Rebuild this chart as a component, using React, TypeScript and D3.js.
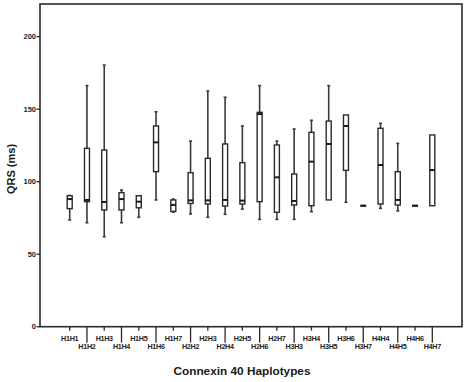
import React from "react";
import * as d3 from "d3";

const categories = [
  "H1H1", "H1H2", "H1H3", "H1H4", "H1H5", "H1H6", "H1H7",
  "H2H2", "H2H3", "H2H4", "H2H5", "H2H6", "H2H7",
  "H3H3", "H3H4", "H3H5", "H3H6", "H3H7",
  "H4H4", "H4H5", "H4H6", "H4H7",
];
const whiskerLow = [73.6, 71.7, 62, 71.7, 75.4, 87.4, 79, 77.7, 75.4, 77.5, 81.1, 74, 74, 74, 79.3, 87.4, 85.8, 83.4, 81.6, 79.8, 83.4, 83.4];
const q1 = [81.4, 86.2, 80.5, 80.5, 82, 106.9, 79.5, 85, 84.6, 83.2, 84.6, 86.2, 78.9, 83.9, 83.4, 87.4, 107.8, 83.4, 84.6, 83.9, 83.4, 83.4];
const medians = [88, 87.4, 86, 88, 86.2, 127.1, 84, 87.1, 87.1, 87.4, 86.9, 146.6, 103, 86.7, 113.8, 126, 138.4, 83.4, 111.5, 87.4, 83.4, 108];
const q3 = [90.3, 123, 121.8, 92.4, 90.3, 138.4, 87.4, 106.2, 116.1, 126, 113.1, 147.8, 125.3, 105.3, 134, 141.8, 146, 83.4, 136.8, 106.9, 83.4, 132.2];
const whiskerHigh = [90.5, 166.2, 180.4, 94.2, 90.3, 148.2, 88, 128, 162.5, 158.2, 138.4, 166.2, 128, 136.3, 142.3, 166.2, 146, 83.4, 140.2, 126.4, 83.4, 132.2];
const yTicks = [0, 50, 100, 150, 200];

const W = 471;
const H = 382;
const left = 40;
const right = 462;
const top = 4;
const bottom = 326.7;

export default function App() {
  const x = d3.scalePoint<string>().domain(categories).range([left, right]).padding(1.72);
  const y = d3.scaleLinear().domain([0, 222.5]).range([bottom, top]);
  const bw = 5;
  const ink = "#2a2a2a";
  const font = "'Liberation Sans', Arial, sans-serif";

  return (
    <svg width={W} height={H} style={{ position: "absolute", left: 0, top: 0, background: "#fff" }}>
      <rect x={0} y={0} width={W} height={H} fill="#fff" />
      <rect x={left} y={top} width={right - left} height={bottom - top} fill="none" stroke={ink} strokeWidth={1.6} />
      {yTicks.map((t) => (
        <g key={t}>
          <line x1={left - 3.5} x2={left} y1={y(t)} y2={y(t)} stroke={ink} strokeWidth={1.3} />
          <text x={left - 4} y={y(t) + 2.6} fontSize={7.5} fontWeight={600} textAnchor="end" fontFamily={font} fill="#222">{t}</text>
        </g>
      ))}
      {categories.map((c, i) => {
        const cx = x(c)!;
        const odd = i % 2 === 1;
        return (
          <g key={c}>
            <line x1={cx} x2={cx} y1={bottom} y2={odd ? bottom + 16 : bottom + 4} stroke={ink} strokeWidth={1.3} />
            <text x={cx} y={odd ? 348.5 : 340.8} fontSize={7.2} fontWeight={700} textAnchor="middle" fontFamily={font} fill="#222" letterSpacing={-0.3}>{c}</text>
          </g>
        );
      })}
      {categories.map((c, i) => {
        const cx = x(c)!;
        const single = q1[i] === q3[i] && whiskerLow[i] === whiskerHigh[i];
        if (single) {
          return (
            <line key={c} x1={cx - 3} x2={cx + 3} y1={y(medians[i])} y2={y(medians[i])} stroke="#1a1a1a" strokeWidth={2.3} />
          );
        }
        return (
          <g key={c}>
            {whiskerHigh[i] > q3[i] && (
              <>
                <line x1={cx} x2={cx} y1={y(whiskerHigh[i])} y2={y(q3[i])} stroke="#3a3a3a" strokeWidth={1.6} />
                <line x1={cx - 1.5} x2={cx + 1.5} y1={y(whiskerHigh[i])} y2={y(whiskerHigh[i])} stroke="#3a3a3a" strokeWidth={1.6} />
              </>
            )}
            {whiskerLow[i] < q1[i] && (
              <>
                <line x1={cx} x2={cx} y1={y(q1[i])} y2={y(whiskerLow[i])} stroke="#3a3a3a" strokeWidth={1.6} />
                <line x1={cx - 1.5} x2={cx + 1.5} y1={y(whiskerLow[i])} y2={y(whiskerLow[i])} stroke="#3a3a3a" strokeWidth={1.6} />
              </>
            )}
            <rect x={cx - bw / 2} y={y(q3[i])} width={bw} height={y(q1[i]) - y(q3[i])} fill="#fff" stroke={ink} strokeWidth={1.4} />
            <line x1={cx - bw / 2} x2={cx + bw / 2} y1={y(medians[i])} y2={y(medians[i])} stroke="#1a1a1a" strokeWidth={2} />
          </g>
        );
      })}
      <text x={242} y={375} fontSize={11.8} fontWeight="bold" textAnchor="middle" fontFamily={font} fill="#1a1a1a">Connexin 40 Haplotypes</text>
      <text transform="translate(15,169) rotate(-90)" fontSize={11} fontWeight="bold" textAnchor="middle" fontFamily={font} fill="#1a1a1a">QRS (ms)</text>
    </svg>
  );
}
